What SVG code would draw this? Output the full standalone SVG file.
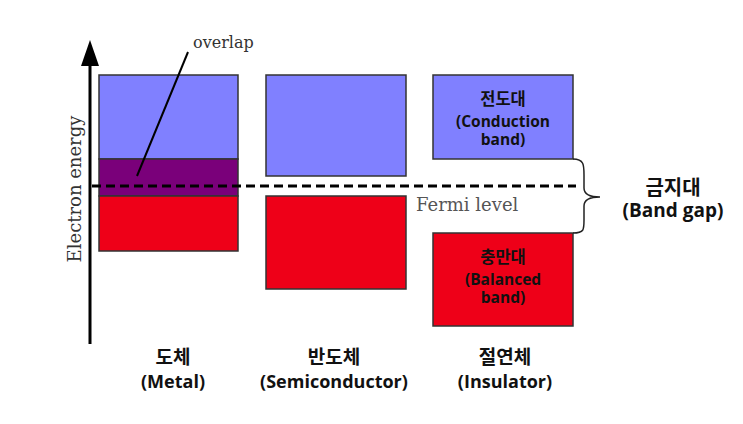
<svg xmlns="http://www.w3.org/2000/svg" width="743" height="424" viewBox="0 0 743 424">
<style>
.box{stroke:#333;stroke-width:1.5}
.blue{fill:#8080FF}
.red{fill:#EE0018}
.purple{fill:#7A007A}
.kr{font-family:"Open Sans","Noto Sans CJK KR",sans-serif;font-weight:bold;fill:#111;text-anchor:middle}
.serif{font-family:"DejaVu Serif","Liberation Serif",serif}
</style>
<rect width="743" height="424" fill="#fff"/>
<g id="axis">
<line x1="90" y1="60" x2="90" y2="344" stroke="#000" stroke-width="3"/>
<polygon points="90,40 81,66 99,66" fill="#000"/>
<text class="serif" x="0" y="0" font-size="18" fill="#333" text-anchor="middle" transform="translate(81,189) rotate(-90)">Electron energy</text>
</g>
<g id="metal">
<rect class="box blue" x="99" y="75" width="139" height="84"/>
<rect class="box purple" x="99" y="159" width="139" height="37"/>
<rect class="box red" x="99" y="196" width="139" height="55"/>
</g>
<g id="semiconductor">
<rect class="box blue" x="266" y="75" width="140" height="101"/>
<rect class="box red" x="266" y="196" width="140" height="93"/>
</g>
<g id="insulator">
<rect class="box blue" x="433" y="75" width="140" height="84"/>
<rect class="box red" x="433" y="233" width="140" height="93"/>
<text class="kr" x="503" y="105" font-size="16.5">전도대</text>
<text class="kr" x="503" y="127" font-size="15.5">(Conduction</text>
<text class="kr" x="503" y="145" font-size="15.5">band)</text>
<text class="kr" x="503" y="263" font-size="16.5">충만대</text>
<text class="kr" x="503" y="285" font-size="15.5">(Balanced</text>
<text class="kr" x="503" y="303" font-size="15.5">band)</text>
</g>
<g id="connectors">
<line x1="92" y1="186" x2="576" y2="186" stroke="#000" stroke-width="3" stroke-dasharray="9,5"/>
<line x1="188" y1="52" x2="137" y2="176" stroke="#000" stroke-width="2"/>
<path d="M573,159 C584,159 584,165 584,175 L584,188 C584,194 590,197 600,197 C590,197 584,200 584,206 L584,220 C584,230 584,233 573,233" fill="none" stroke="#222" stroke-width="1.5"/>
</g>
<g id="labels">
<text class="serif" x="193" y="48" font-size="16" fill="#333">overlap</text>
<text class="serif" x="416" y="211" font-size="18" fill="#555">Fermi level</text>
<text class="kr" x="673" y="195" font-size="20">금지대</text>
<text class="kr" x="673" y="217" font-size="19">(Band gap)</text>
<text class="kr" x="173" y="364" font-size="19">도체</text>
<text class="kr" x="173" y="388" font-size="18">(Metal)</text>
<text class="kr" x="334" y="364" font-size="19">반도체</text>
<text class="kr" x="334" y="388" font-size="18">(Semiconductor)</text>
<text class="kr" x="505" y="364" font-size="19">절연체</text>
<text class="kr" x="505" y="388" font-size="18">(Insulator)</text>
</g>
</svg>
